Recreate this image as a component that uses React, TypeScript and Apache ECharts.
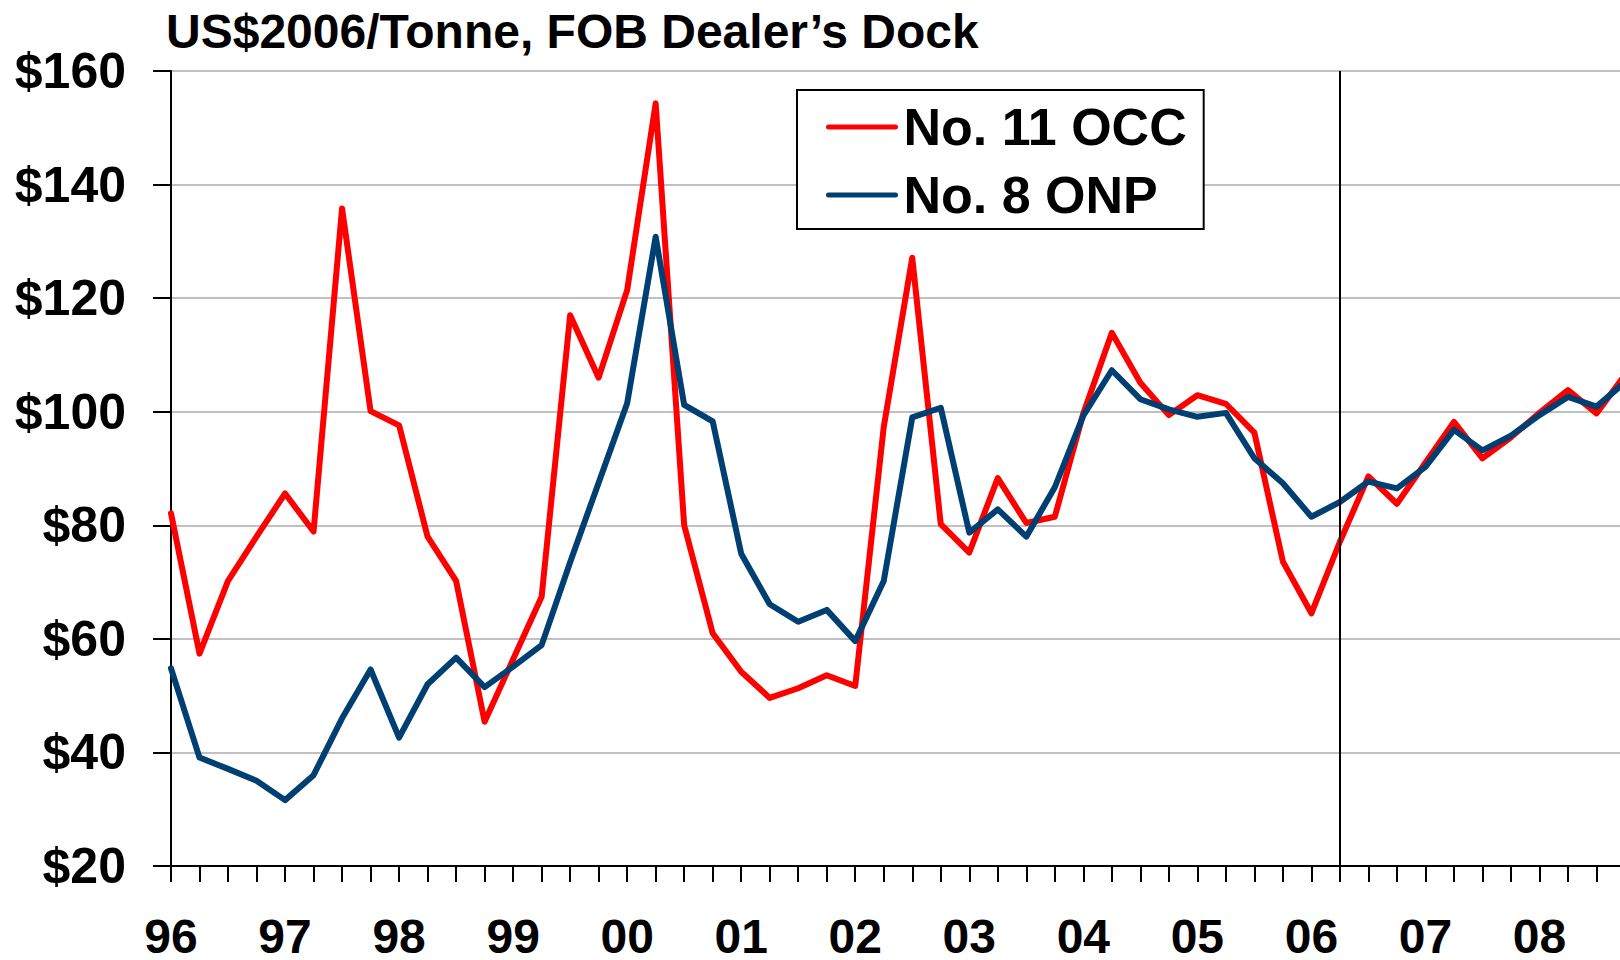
import React, { useEffect, useRef } from "react";
import * as echarts from "echarts";

// Year labels (one label per first quarter)
const yearLabels = ["96", "97", "98", "99", "00", "01", "02", "03", "04", "05", "06", "07", "08"];
const quarterNames = ["Q1", "Q2", "Q3", "Q4"];

// No. 11 OCC, US$2006/tonne, quarterly 1996Q1..2008Q4
const occValues = [
  82.1, 57.4, 70.2, 78.0, 85.6, 78.9, 135.8, 100.1, 97.6, 78.0, 70.2, 45.4, 56.4,
  67.4, 117.0, 106.0, 121.4, 154.3, 80.0, 61.0, 54.2, 49.6, 51.3, 53.6, 51.7, 97.3,
  127.1, 80.2, 75.2, 88.3, 80.4, 81.5, 99.7, 113.9, 105.1, 99.4, 102.9, 101.4, 96.3,
  73.6, 64.5, 77.1, 88.6, 83.8, 91.0, 98.2, 91.8, 95.5, 99.8, 103.8, 99.7, 106.5,
];

// No. 8 ONP, US$2006/tonne
const onpValues = [
  54.8, 39.1, 37.1, 35.0, 31.6, 36.0, 46.0, 54.6, 42.6, 52.0, 56.7, 51.5, 55.1,
  58.9, 73.5, 87.5, 101.5, 130.8, 101.2, 98.3, 75.0, 66.1, 63.0, 65.1, 59.6, 70.2,
  99.0, 100.7, 78.7, 82.8, 78.0, 86.7, 99.3, 107.3, 102.2, 100.4, 99.1, 99.8, 91.8,
  87.4, 81.5, 84.1, 87.7, 86.5, 90.3, 96.8, 93.2, 95.8, 99.4, 102.6, 100.9, 105.2,
];

const seriesNames = ["No. 11 OCC", "No. 8 ONP"];
const seriesColors = ["#FF0000", "#003F72"];
const titleText = "US$2006/Tonne, FOB Dealer\u2019s Dock";
const dividerQuarter = "06-Q2";

const yMin = 20;
const yMax = 160;
const yStep = 20;

const FONT = "'Liberation Sans', Arial, Helvetica, sans-serif";

export default function App() {
  const ref = useRef<HTMLDivElement>(null);

  useEffect(() => {
    if (!ref.current) return;
    const chart = echarts.init(ref.current, null, { renderer: "svg" });

    const categories: string[] = [];
    yearLabels.forEach((y) => quarterNames.forEach((q) => categories.push(`${y}-${q}`)));

    const lineSeries = (name: string, data: number[], color: string, extra: any = {}) => ({
      name,
      type: "line",
      data,
      symbol: "none",
      showSymbol: false,
      clip: false,
      lineStyle: { color, width: 6, join: "round", cap: "round" },
      itemStyle: { color },
      emphasis: { disabled: true },
      ...extra,
    });

    chart.setOption({
      animation: false,
      backgroundColor: "#ffffff",
      title: {
        text: titleText,
        left: 166,
        top: 6,
        padding: 0,
        textStyle: { fontFamily: FONT, fontWeight: "bold", fontSize: 48, lineHeight: 50, color: "#000" },
      },
      legend: {
        orient: "vertical",
        left: 797,
        top: 90,
        padding: [11, 17, 8, 29],
        itemGap: 16,
        itemWidth: 67,
        itemHeight: 14,
        borderColor: "#000",
        borderWidth: 2,
        backgroundColor: "#fff",
        selectedMode: false,
        lineStyle: { width: 5, cap: "round" },
        itemStyle: { color: "transparent", borderColor: "transparent", borderWidth: 0, opacity: 0 },
        textStyle: {
          fontFamily: FONT,
          fontWeight: "bold",
          fontSize: 52,
          lineHeight: 52,
          color: "#000",
          padding: [0, 0, 0, 3],
        },
        data: seriesNames,
      },
      grid: {
        left: 171,
        top: 71,
        right: 0,
        bottom: 94,
        show: true,
        borderColor: "#000",
        borderWidth: 2,
        backgroundColor: "transparent",
      },
      xAxis: {
        type: "category",
        data: categories,
        boundaryGap: false,
        axisLine: { lineStyle: { color: "#000", width: 2 } },
        axisTick: { show: true, interval: 0, length: 16, lineStyle: { color: "#000", width: 2 } },
        axisLabel: {
          interval: 3,
          margin: 48,
          fontFamily: FONT,
          fontWeight: "bold",
          fontSize: 48,
          lineHeight: 44,
          color: "#000",
          formatter: (v: string) => v.split("-")[0],
        },
        splitLine: { show: false },
      },
      yAxis: {
        type: "value",
        min: yMin,
        max: yMax,
        interval: yStep,
        axisLine: { show: true, lineStyle: { color: "#000", width: 2 } },
        axisTick: { show: true, length: 18, lineStyle: { color: "#000", width: 2 } },
        axisLabel: {
          margin: 45,
          fontFamily: FONT,
          fontWeight: "bold",
          fontSize: 50,
          lineHeight: 50,
          color: "#000",
          formatter: (v: number) => `$${v}`,
        },
        splitLine: { show: true, lineStyle: { color: "#C0C0C0", width: 2 } },
      },
      series: [
        lineSeries(seriesNames[0], occValues, seriesColors[0], {
          z: 3,
          markLine: {
            silent: true,
            symbol: ["none", "none"],
            label: { show: false },
            lineStyle: { color: "#000", width: 2, type: "solid" },
            data: [{ xAxis: dividerQuarter }],
          },
        }),
        lineSeries(seriesNames[1], onpValues, seriesColors[1], { z: 4 }),
      ],
    });

    return () => chart.dispose();
  }, []);

  return (
    <div
      style={{
        position: "absolute",
        left: 0,
        top: 0,
        width: 1620,
        height: 960,
        overflow: "hidden",
        background: "#fff",
      }}
    >
      <div ref={ref} style={{ width: 1625, height: 960 }} />
    </div>
  );
}
